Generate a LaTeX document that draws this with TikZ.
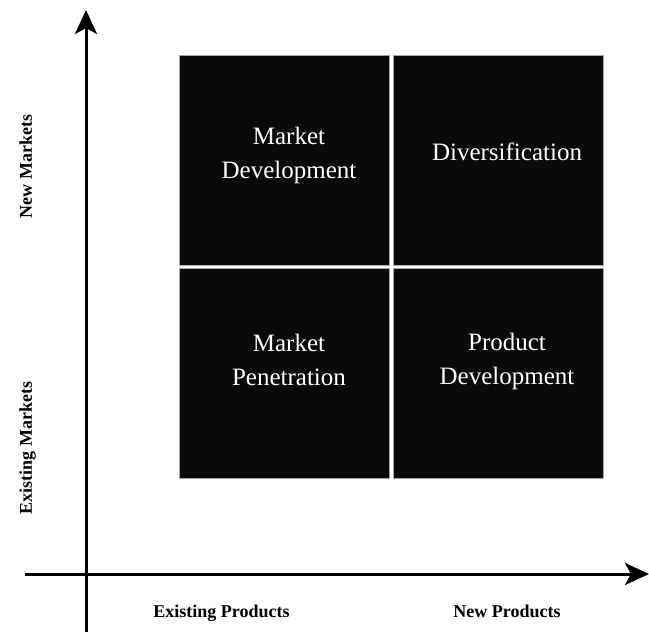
\documentclass[tikz,border=0pt]{standalone}
\usepackage{fontspec}
\setmainfont{Liberation Serif}
\usetikzlibrary{arrows.meta}

\tikzset{
  quad/.style={fill=black!96, draw=gray!70, line width=0.4pt, inner sep=0pt,
    minimum width=105pt, minimum height=105pt},
  quadtext/.style={text=white, align=center, font=\fontsize{12.5}{17}\selectfont},
  axislabel/.style={font=\fontsize{9}{11}\selectfont\bfseries, anchor=base},
  axis/.style={line width=1.5pt, -{Stealth[length=12pt, width=11pt, inset=3pt]}}
}

\begin{document}
\begin{tikzpicture}[x=0.5pt, y=0.5pt]
    \useasboundingbox (0,0) rectangle (649,-632);

    % the four quadrants
    \node[quad] (md) at (284.5,-160) {};
    \node[quad] (dv) at (498.5,-160) {};
    \node[quad] (mp) at (284.5,-373.5) {};
    \node[quad] (pd) at (498.5,-373.5) {};

    \node[quadtext] (mdtext) at (289,-155) {Market\\Development};
    \node[quadtext] (dvtext) at (507,-152) {Diversification};
    \node[quadtext] (mptext) at (289,-360) {Market\\Penetration};
    \node[quadtext] (pdtext) at (507,-361) {Product\\Development};

    % axes
    \coordinate (ybot) at (86,-632);
    \coordinate (ytop) at (86,-10);
    \coordinate (xleft) at (25,-574);
    \coordinate (xright) at (649,-574);
    \draw[axis] (ybot) -- (ytop);
    \draw[axis] (xleft) -- (xright);

    \node[axislabel, rotate=90] (newm) at (32,-166.5) {New Markets};
    \node[axislabel, rotate=90] (exm) at (32,-448) {Existing Markets};
    \node[axislabel] (exp) at (221.5,-617) {Existing Products};
    \node[axislabel] (newp) at (507,-617) {New Products};
\end{tikzpicture}
\end{document}
